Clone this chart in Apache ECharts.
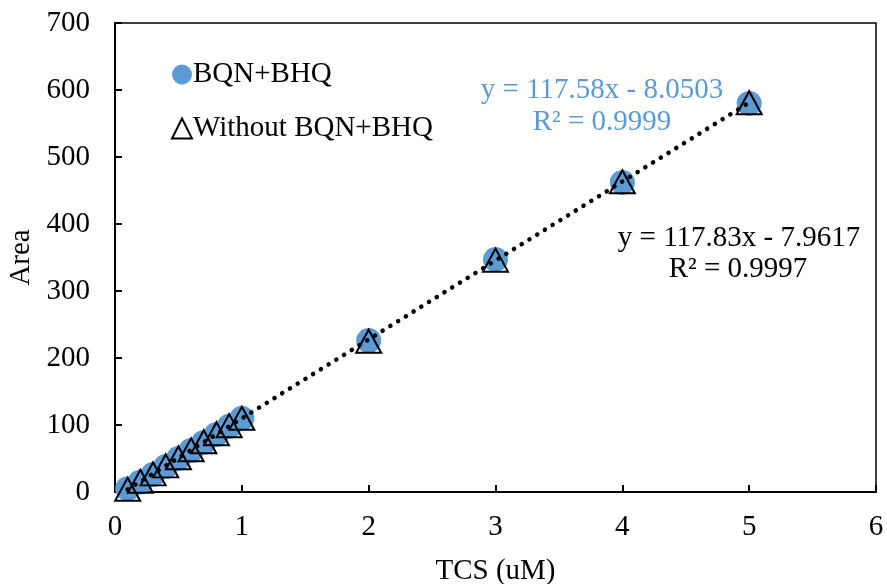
<!DOCTYPE html>
<html>
<head>
<meta charset="utf-8">
<script src="https://cdn.jsdelivr.net/npm/echarts@6/dist/echarts.min.js"></script>
<style>
  html, body { margin: 0; padding: 0; background: #fff; }
  #chart { width: 887px; height: 584px; }
</style>
</head>
<body>
<div id="chart"></div>
<script>
const concentrations = [0.1, 0.2, 0.3, 0.4, 0.5, 0.6, 0.7, 0.8, 0.9, 1, 2, 3, 4, 5]
const areaWith = [5, 15, 26, 38, 50, 62, 74, 86, 98, 110, 226, 347, 462, 580]
const areaWithout = [4, 16, 27, 39, 51, 63, 75, 87, 99, 110, 225, 346, 463, 581]
// trendline coefficients [slope, intercept]
const fitWith = [117.58, -8.0503]
const fitWithout = [117.83, -7.9617]
const eqWith = ['y = 117.58x - 8.0503', 'R² = 0.9999']
const eqWithout = ['y = 117.83x - 7.9617', 'R² = 0.9997']

const BLUE = '#5B9BD5'
const FONT = 'Liberation Serif'
const FS = 29

const chart = echarts.init(document.getElementById('chart'))

function trend(fit) {
  const x0 = concentrations[0]
  const x1 = concentrations[concentrations.length - 1]
  return [[x0, fit[0] * x0 + fit[1]], [x1, fit[0] * x1 + fit[1]]]
}

function eqText(x, y, text, color) {
  return {
    type: 'text', x: x, y: y,
    style: { text: text, font: FS + 'px "Liberation Serif"', fill: color, align: 'center', verticalAlign: 'middle' }
  }
}

chart.setOption({
  backgroundColor: '#fff',
  animation: false,
  textStyle: { fontFamily: FONT },
  grid: {
    left: 115, right: 11, top: 23, bottom: 92,
    outerBoundsMode: 'none',
    show: true, borderColor: '#000', borderWidth: 1.5, backgroundColor: 'transparent'
  },
  legend: {
    orient: 'vertical',
    left: 166, top: 55,
    itemGap: 25,
    itemWidth: 20, itemHeight: 20,
    textStyle: { fontFamily: FONT, fontSize: FS, color: '#000', padding: [0, 0, 0, -4] },
    data: ['BQN+BHQ', 'Without BQN+BHQ']
  },
  xAxis: {
    type: 'value',
    min: 0, max: 6, interval: 1,
    name: 'TCS (uM)',
    nameLocation: 'middle',
    nameGap: 65,
    nameTextStyle: { fontFamily: FONT, fontSize: FS, color: '#000' },
    axisLine: { lineStyle: { color: '#000', width: 2 } },
    axisTick: { inside: true, length: 7, lineStyle: { color: '#000', width: 2 } },
    axisLabel: { fontFamily: FONT, fontSize: FS, color: '#000', margin: 21 },
    splitLine: { show: false }
  },
  yAxis: {
    type: 'value',
    min: 0, max: 700, interval: 100,
    name: 'Area',
    nameLocation: 'middle',
    nameGap: 79,
    nameTextStyle: { fontFamily: FONT, fontSize: FS, color: '#000' },
    axisLine: { show: true, lineStyle: { color: '#000', width: 2 } },
    axisTick: { show: true, inside: true, length: 7, lineStyle: { color: '#000', width: 2 } },
    axisLabel: { fontFamily: FONT, fontSize: FS, color: '#000', margin: 25 },
    splitLine: { show: false }
  },
  graphic: [
    eqText(602, 90, eqWith[0], BLUE),
    eqText(602, 122, eqWith[1], BLUE),
    eqText(739, 238, eqWithout[0], '#000'),
    eqText(738, 269, eqWithout[1], '#000')
  ],
  series: [
    {
      name: 'BQN+BHQ',
      type: 'scatter',
      symbol: 'circle',
      symbolSize: 25,
      itemStyle: { color: BLUE, opacity: 1 },
      data: concentrations.map((x, i) => [x, areaWith[i]]),
      z: 2
    },
    {
      name: 'Without BQN+BHQ',
      type: 'scatter',
      symbol: 'triangle',
      symbolSize: [25, 23],
      itemStyle: { color: 'rgba(0,0,0,0)', borderColor: '#000', borderWidth: 2, opacity: 1 },
      data: concentrations.map((x, i) => [x, areaWithout[i]]),
      z: 3
    },
    {
      name: 'trendWith',
      type: 'line',
      symbol: 'none',
      lineStyle: { color: BLUE, width: 3, type: [0.1, 9], cap: 'round' },
      data: trend(fitWith),
      z: 4,
      silent: true
    },
    {
      name: 'trendWithout',
      type: 'line',
      symbol: 'none',
      lineStyle: { color: '#000', width: 4.5, type: [0.1, 9], cap: 'round' },
      data: trend(fitWithout),
      z: 5,
      silent: true
    }
  ]
})
</script>
</body>
</html>
